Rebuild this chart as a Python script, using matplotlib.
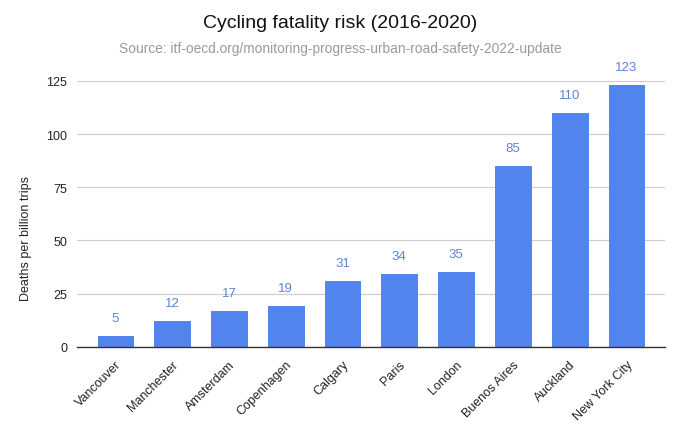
import numpy as np
from matplotlib import pyplot as plt

plt.rcParams['font.family'] = ['Liberation Sans', 'DejaVu Sans']

# Data
cities = ['Vancouver', 'Manchester', 'Amsterdam', 'Copenhagen', 'Calgary',
          'Paris', 'London', 'Buenos Aires', 'Auckland', 'New York City']
deaths = [5, 12, 17, 19, 31, 34, 35, 85, 110, 123]
yticks = [0, 25, 50, 75, 100, 125]

bar_color = '#5184ec'
label_color = '#5b86d8'

fig = plt.figure(figsize=(6.8, 4.31), dpi=100)
ax = fig.add_axes([0.113, 0.193, 0.865, 0.617])

x = np.arange(len(cities))
bars = ax.bar(x, deaths, width=0.63, color=bar_color, edgecolor=bar_color,
              linewidth=0.7, joinstyle='round', zorder=3)

for b, v in zip(bars, deaths):
    ax.text(b.get_x() + b.get_width() / 2, v + 8.5, str(v), ha='center',
            va='center', fontsize=9.5, color=label_color, clip_on=False)

ax.set_xlim(-0.68, 9.68)
ax.set_ylim(0, 125)
ax.set_yticks(yticks)
ax.set_yticklabels([str(t) for t in yticks], fontsize=9, color='#222222')
ax.set_xticks(x)
ax.set_xticklabels(cities, rotation=45, ha='right', rotation_mode='anchor',
                   fontsize=9, color='#222222')
ax.tick_params(length=0, pad=7)
ax.tick_params(axis='x', pad=8)

ax.grid(axis='y', color='#cccccc', linewidth=0.8, zorder=0)
for s in ['top', 'right', 'left']:
    ax.spines[s].set_visible(False)
ax.spines['bottom'].set_color('#333333')
ax.spines['bottom'].set_linewidth(1)
ax.spines['bottom'].set_zorder(4)

ax.set_ylabel('Deaths per billion trips', fontsize=9, color='#222222')
ax.yaxis.set_label_coords(-0.077, 0.41)

fig.text(0.5, 0.945, 'Cycling fatality risk (2016-2020)', ha='center',
         va='center', fontsize=14, color='#111111')
fig.text(0.5, 0.886, 'Source: itf-oecd.org/monitoring-progress-urban-road-safety-2022-update',
         ha='center', va='center', fontsize=9.9, color='#9a9a9a')

fig.savefig('out.png', dpi=100)
